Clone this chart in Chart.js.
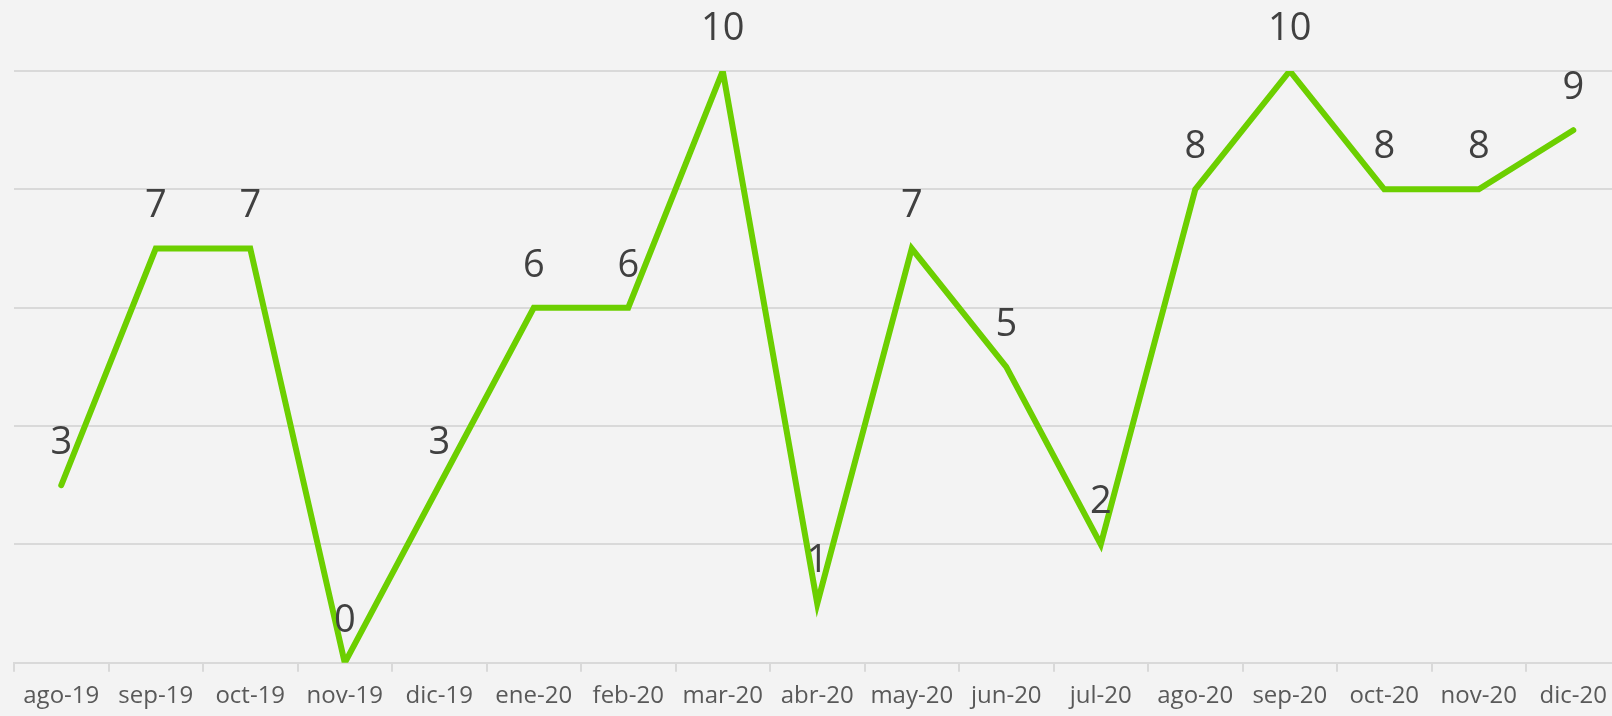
<!DOCTYPE html>
<html>
<head>
<meta charset="utf-8">
<script src="https://cdn.jsdelivr.net/npm/chart.js@4/dist/chart.umd.min.js"></script>
<style>
  html, body { margin: 0; padding: 0; background: #f3f3f3; overflow: hidden; }
  #wrap { width: 1622px; height: 716px; }
</style>
</head>
<body>
<div id="wrap"><canvas id="lineChart"></canvas></div>
<script>
const months = ['ago-19', 'sep-19', 'oct-19', 'nov-19', 'dic-19', 'ene-20', 'feb-20', 'mar-20', 'abr-20',
  'may-20', 'jun-20', 'jul-20', 'ago-20', 'sep-20', 'oct-20', 'nov-20', 'dic-20'];
const counts = [3, 7, 7, 0, 3, 6, 6, 10, 1, 7, 5, 2, 8, 10, 8, 8, 9];
const yTicks = [0, 2, 4, 6, 8, 10];

// draws the value above each point
const valueLabels = {
  id: 'valueLabels',
  afterDatasetsDraw(chart) {
    const ctx = chart.ctx;
    const meta = chart.getDatasetMeta(0);
    ctx.save();
    ctx.font = '38px "Open Sans", sans-serif';
    ctx.fillStyle = '#404040';
    ctx.textAlign = 'center';
    ctx.textBaseline = 'middle';
    meta.data.forEach((pt, i) => {
      ctx.fillText(String(counts[i]), pt.x, pt.y - 42);
    });
    ctx.restore();
  }
};

const chart = new Chart(document.getElementById('lineChart'), {
  type: 'line',
  data: {
    labels: months,
    datasets: [{
      data: counts,
      borderColor: '#6ccf00',
      borderWidth: 6,
      borderCapStyle: 'round',
      borderJoinStyle: 'miter',
      pointRadius: 0,
      tension: 0,
      fill: false
    }]
  },
  options: {
    responsive: true,
    maintainAspectRatio: false,
    animation: false,
    layout: { padding: { left: 14, top: 71, right: 1, bottom: -5 } },
    plugins: {
      legend: { display: false },
      tooltip: { enabled: false }
    },
    scales: {
      x: {
        offset: true,
        grid: {
          offset: true,
          drawOnChartArea: false,
          drawTicks: true,
          tickLength: 9,
          color: '#d9d9d9',
          lineWidth: 2
        },
        border: { display: true, color: '#d9d9d9', width: 2 },
        ticks: {
          color: '#595959',
          font: { family: '"Open Sans", sans-serif', size: 24, lineHeight: 0.8 },
          padding: 15,
          maxRotation: 0,
          autoSkip: false
        }
      },
      y: {
        min: 0,
        max: 10,
        afterBuildTicks(scale) {
          scale.ticks = yTicks.map(v => ({ value: v }));
        },
        grid: { color: '#d9d9d9', lineWidth: 2, drawTicks: false },
        border: { display: false },
        ticks: { display: false }
      }
    }
  },
  plugins: [valueLabels]
});
</script>
</body>
</html>
